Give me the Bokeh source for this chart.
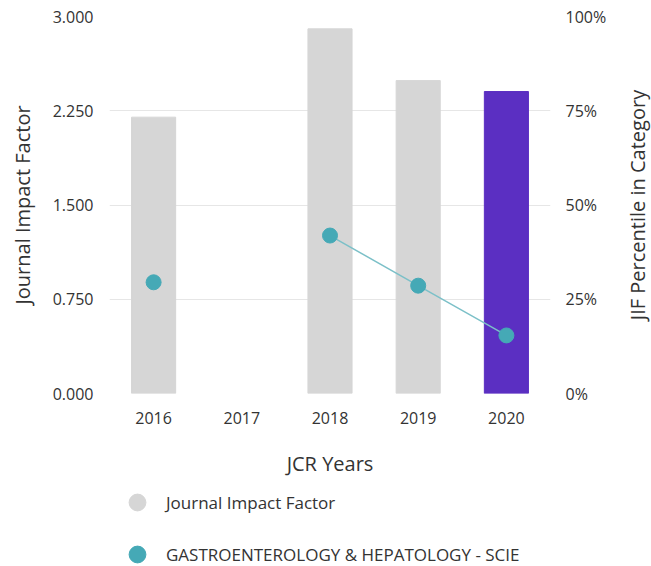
import math
from bokeh.plotting import figure
from bokeh.layouts import column, row
from bokeh.models import (Range1d, LinearAxis, FixedTicker, PrintfTickFormatter,
                          ColumnDataSource, Legend, LegendItem, FactorRange, Label)
from bokeh.embed import file_html
from bokeh.resources import INLINE

# ---- data ----
years = ["2016", "2017", "2018", "2019", "2020"]
jif = [2.199, float("nan"), 2.902, 2.490, 2.403]
percentile = [29.5, float("nan"), 41.9, 28.6, 15.4]
jif_ticks = [0, 0.75, 1.5, 2.25, 3.0]
pct_ticks = [0, 25, 50, 75, 100]
highlight_year = "2020"
legend_labels = ["Journal Impact Factor", "GASTROENTEROLOGY & HEPATOLOGY - SCIE"]
x_title = "JCR Years"
y_title = "Journal Impact Factor"
y2_title = "JIF Percentile in Category"

# ---- style ----
FONT = "Open Sans"
TEXT = "#333333"
GRAY = "#d6d6d6"
PURPLE = "#5b2fc2"
TEAL = "#45a9b6"
TEAL_LINE = "#7cc0c8"
GRID = "#e6e6e6"

TOTAL_W, TOTAL_H = 651, 566
MAIN_H = 484
LEG_H = TOTAL_H - MAIN_H
SIDE_W = 41
MAIN_W = TOTAL_W - SIDE_W
B_LEFT, B_TOP = 109, 16
B_BOTTOM = MAIN_H - 393
B_RIGHT = MAIN_W - 550

bar_colors = [PURPLE if y == highlight_year else GRAY for y in years]
src = ColumnDataSource(dict(year=years, jif=jif, pct=percentile, color=bar_colors))

p = figure(width=MAIN_W, height=MAIN_H, x_range=FactorRange(*years), y_range=Range1d(0, 3),
           output_backend="svg", toolbar_location=None,
           min_border_left=B_LEFT, min_border_right=B_RIGHT, min_border_top=B_TOP,
           min_border_bottom=B_BOTTOM)
p.extra_y_ranges = {"pct": Range1d(0, 100)}
p.outline_line_color = None
p.background_fill_color = "white"

p.vbar(x="year", top="jif", width=0.5, color="color", source=src)
p.line(x="year", y="pct", source=src, y_range_name="pct", line_color=TEAL_LINE, line_width=1.5)
p.scatter(x="year", y="pct", source=src, y_range_name="pct", size=15,
          fill_color=TEAL, line_color=TEAL)

# left axis
ya = p.yaxis[0]
ya.ticker = FixedTicker(ticks=jif_ticks)
ya.formatter = PrintfTickFormatter(format="%.3f")
ya.axis_label = y_title

# right axis (its title is drawn in the side strip so that it reads bottom-to-top)
ra = LinearAxis(y_range_name="pct", ticker=FixedTicker(ticks=pct_ticks),
                formatter=PrintfTickFormatter(format="%d%%"))
p.add_layout(ra, "right")

xa = p.xaxis[0]
xa.axis_label = x_title

for ax in [ya, ra, xa]:
    ax.axis_line_color = None
    ax.major_tick_line_color = None
    ax.minor_tick_line_color = None
    ax.major_tick_out = 0
    ax.major_tick_in = 0
    ax.major_label_text_font = FONT
    ax.major_label_text_font_size = "16px"
    ax.major_label_text_color = TEXT
    ax.axis_label_text_font = FONT
    ax.axis_label_text_font_size = "20px"
    ax.axis_label_text_font_style = "normal"
    ax.axis_label_text_color = TEXT

ya.major_label_standoff = 16
ya.axis_label_standoff = 14
ra.major_label_standoff = 15
xa.major_label_standoff = 18
xa.axis_label_standoff = 23

p.xgrid.grid_line_color = None
p.ygrid.grid_line_color = GRID
p.ygrid.grid_line_width = 1

# ---- right title strip ----
side = figure(width=SIDE_W, height=MAIN_H, output_backend="svg", toolbar_location=None,
              x_axis_type=None, y_axis_type=None,
              min_border_left=0, min_border_right=0, min_border_top=B_TOP,
              min_border_bottom=B_BOTTOM, x_range=Range1d(0, 1), y_range=Range1d(0, 3))
side.outline_line_color = None
side.grid.grid_line_color = None
side.add_layout(Label(x=27, y=1.5, x_units="screen", y_units="data", text=y2_title,
                      angle=math.pi / 2, text_align="center", text_baseline="middle",
                      text_font=FONT, text_font_size="20px", text_color=TEXT))

# ---- legend strip ----
lg = figure(width=TOTAL_W, height=LEG_H, output_backend="svg", toolbar_location=None,
            x_axis_type=None, y_axis_type=None,
            min_border_left=B_LEFT, min_border_right=TOTAL_W - 550,
            min_border_top=0, min_border_bottom=0,
            x_range=Range1d(0, 1), y_range=Range1d(0, 1))
lg.outline_line_color = None
lg.grid.grid_line_color = None
nan = float("nan")
r_jif = lg.scatter(x=[nan], y=[nan], size=15, fill_color=GRAY, line_color=GRAY)
r_cat = lg.scatter(x=[nan], y=[nan], size=15, fill_color=TEAL, line_color=TEAL)
legend = Legend(items=[LegendItem(label=legend_labels[0], renderers=[r_jif]),
                       LegendItem(label=legend_labels[1], renderers=[r_cat])],
                location=(7, -9), orientation="vertical",
                glyph_width=42, glyph_height=42, label_standoff=8, spacing=10,
                padding=0, margin=0, border_line_color=None, background_fill_alpha=0,
                label_text_font=FONT, label_text_font_size="17px", label_text_color=TEXT)
lg.add_layout(legend, "center")

layout = column(row(p, side, spacing=0), lg, spacing=0)
open("out.html", "w").write(file_html(layout, INLINE))
